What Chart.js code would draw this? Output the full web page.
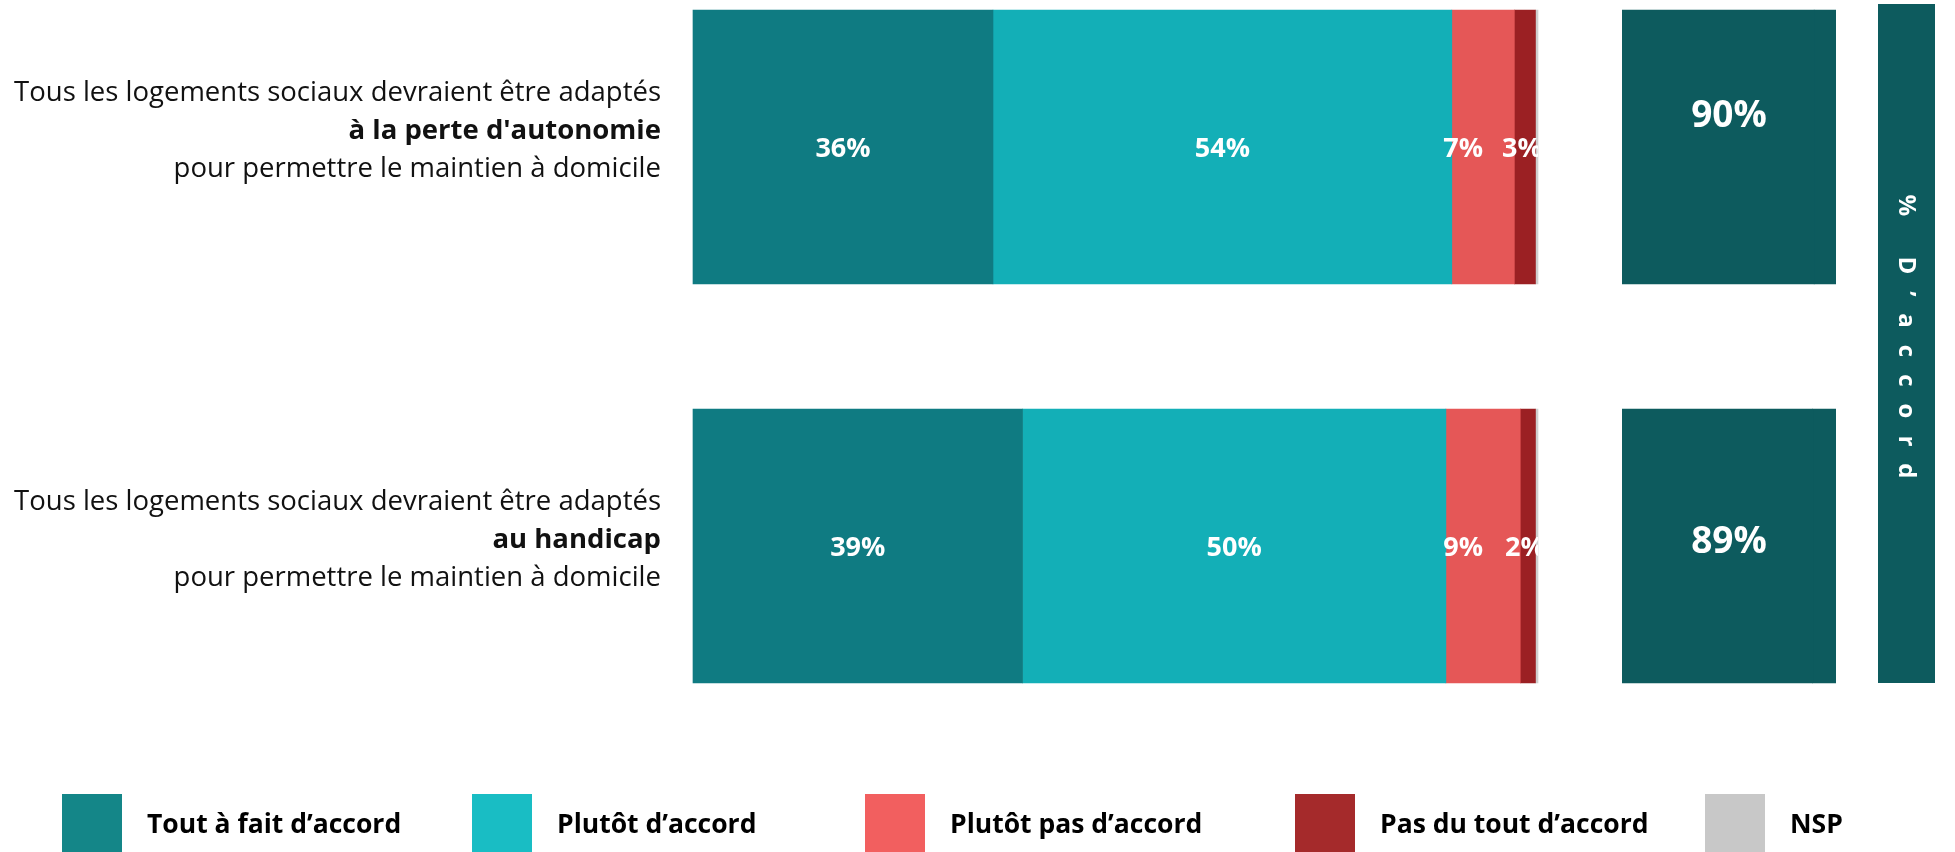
<!DOCTYPE html>
<html lang="fr">
<head>
<meta charset="utf-8">
<title>Logements sociaux adaptés</title>
<script src="https://cdn.jsdelivr.net/npm/chart.js@4.4.1/dist/chart.umd.min.js"></script>
<style>
  html, body { margin: 0; padding: 0; background: #fff; }
  .wrap { position: relative; width: 1955px; height: 852px; overflow: hidden; }
  #mainChart { position: absolute; left: 0; top: 0; }
  #totalChart { position: absolute; left: 1622px; top: 0; }
</style>
</head>
<body>
<div class="wrap">
  <canvas id="mainChart" width="1955" height="852"></canvas>
  <canvas id="totalChart" width="214" height="852"></canvas>
</div>
<script>
// données
const categories = ["à la perte d'autonomie", 'au handicap'];
const questionStart = 'Tous les logements sociaux devraient être adaptés';
const questionEnd = 'pour permettre le maintien à domicile';

const seriesNames = ['Tout à fait d’accord', 'Plutôt d’accord', 'Plutôt pas d’accord', 'Pas du tout d’accord', 'NSP'];
const toutAFait = [35.5, 39.0];
const plutot = [54.3, 50.1];
const plutotPas = [7.4, 8.8];
const pasDuTout = [2.5, 1.8];
const nsp = [0.3, 0.3];
const totalAccord = categories.map((_, i) => toutAFait[i] + plutot[i]);

const seriesValues = [toutAFait, plutot, plutotPas, pasDuTout, nsp];

// styles
const barColors = ['#0f7b82', '#13afb7', '#e55757', '#9b2023', '#cfcfcf'];
const legendColors = ['#148688', '#19bdc4', '#f25f5f', '#a52a2b', '#c8c8c8'];
const boxColor = '#0d5b5e';
const labelShift = [0, 0, -20, -3, 0];
const rowTextShift = [-16, -6];
const boxLabelShift = [-31, -4];
const legendX = [62, 472, 865, 1295, 1705];
const FONT = '"Open Sans", "Noto Sans", sans-serif';

const mainCanvas = document.getElementById('mainChart');
const totalCanvas = document.getElementById('totalChart');

const segmentLabels = {
    id: 'segmentLabels',
    afterDatasetsDraw(chart) {
        const { ctx, chartArea } = chart;
        ctx.save();
        ctx.beginPath();
        ctx.rect(chartArea.left, 0, chartArea.right - chartArea.left, chart.height);
        ctx.clip();
        ctx.font = 'bold 27px ' + FONT;
        ctx.fillStyle = '#fff';
        ctx.textAlign = 'center';
        ctx.textBaseline = 'middle';
        chart.data.datasets.forEach((ds, di) => {
            chart.getDatasetMeta(di).data.forEach((bar, i) => {
                const v = ds.data[i];
                if (v < 1) return;
                const p = bar.getProps(['x', 'base', 'y'], true);
                ctx.fillText(Math.round(v) + '%', (p.x + p.base) / 2 + labelShift[di], p.y + 2);
            });
        });
        ctx.restore();
    }
};

const rowTexts = {
    id: 'rowTexts',
    afterDraw(chart) {
        const { ctx } = chart;
        const yScale = chart.scales.y;
        ctx.save();
        ctx.fillStyle = '#111';
        ctx.textAlign = 'right';
        ctx.textBaseline = 'middle';
        categories.forEach((cat, i) => {
            const y = yScale.getPixelForValue(i) + rowTextShift[i];
            ctx.font = '27.5px ' + FONT;
            ctx.fillText(questionStart, 661, y - 38);
            ctx.font = 'bold 27.5px ' + FONT;
            ctx.fillText(cat, 661, y);
            ctx.font = '27.5px ' + FONT;
            ctx.fillText(questionEnd, 661, y + 38);
        });
        ctx.restore();
    }
};

const sideBanner = {
    id: 'sideBanner',
    afterDraw(chart) {
        const { ctx } = chart;
        ctx.save();
        ctx.fillStyle = boxColor;
        ctx.fillRect(1878, 4, 57, 679);
        ctx.translate(1906, 337);
        ctx.rotate(Math.PI / 2);
        ctx.fillStyle = '#fff';
        ctx.font = 'bold 24px ' + FONT;
        ctx.letterSpacing = '17px';
        ctx.textAlign = 'center';
        ctx.textBaseline = 'middle';
        ctx.fillText('% D’accord', 8, 0);
        ctx.restore();
    }
};

const customLegend = {
    id: 'customLegend',
    afterDraw(chart) {
        const { ctx } = chart;
        ctx.save();
        ctx.textAlign = 'left';
        ctx.textBaseline = 'middle';
        ctx.font = 'bold 26.5px ' + FONT;
        seriesNames.forEach((name, i) => {
            ctx.fillStyle = legendColors[i];
            ctx.fillRect(legendX[i], 794, 60, 60);
            ctx.fillStyle = '#000';
            ctx.fillText(name, legendX[i] + 85, 825);
        });
        ctx.restore();
    }
};

new Chart(mainCanvas, {
    type: 'bar',
    data: {
        labels: categories,
        datasets: seriesValues.map((values, i) => ({
            label: seriesNames[i],
            data: values,
            backgroundColor: barColors[i],
            borderWidth: 0,
            barThickness: 274,
            clip: false
        }))
    },
    options: {
        indexAxis: 'y',
        responsive: false,
        animation: false,
        layout: { padding: { left: 693, right: 417, top: 147, bottom: 306 } },
        scales: {
            x: { stacked: true, min: 0, max: 100, display: false },
            y: { stacked: true, offset: false, display: false }
        },
        plugins: { legend: { display: false }, tooltip: { enabled: false } }
    },
    plugins: [segmentLabels, rowTexts, sideBanner, customLegend]
});

const boxLabels = {
    id: 'boxLabels',
    afterDatasetsDraw(chart) {
        const { ctx, chartArea } = chart;
        const yScale = chart.scales.y;
        ctx.save();
        ctx.font = 'bold 37px ' + FONT;
        ctx.fillStyle = '#fff';
        ctx.textAlign = 'center';
        ctx.textBaseline = 'middle';
        totalAccord.forEach((t, i) => {
            const y = yScale.getPixelForValue(i) + boxLabelShift[i];
            ctx.fillText(Math.round(t) + '%', (chartArea.left + chartArea.right) / 2, y);
        });
        ctx.restore();
    }
};

new Chart(totalCanvas, {
    type: 'bar',
    data: {
        labels: categories,
        datasets: [
            { label: '% D’accord', data: totalAccord, backgroundColor: boxColor, borderWidth: 0, barThickness: 274, clip: false },
            { label: 'reste', data: totalAccord.map(t => 100 - t), backgroundColor: boxColor, borderWidth: 0, barThickness: 274, clip: false }
        ]
    },
    options: {
        indexAxis: 'y',
        responsive: false,
        animation: false,
        layout: { padding: { left: 0, right: 0, top: 147, bottom: 306 } },
        scales: {
            x: { stacked: true, min: 0, max: 100, display: false },
            y: { stacked: true, offset: false, display: false }
        },
        plugins: { legend: { display: false }, tooltip: { enabled: false } }
    },
    plugins: [boxLabels]
});
</script>
</body>
</html>
